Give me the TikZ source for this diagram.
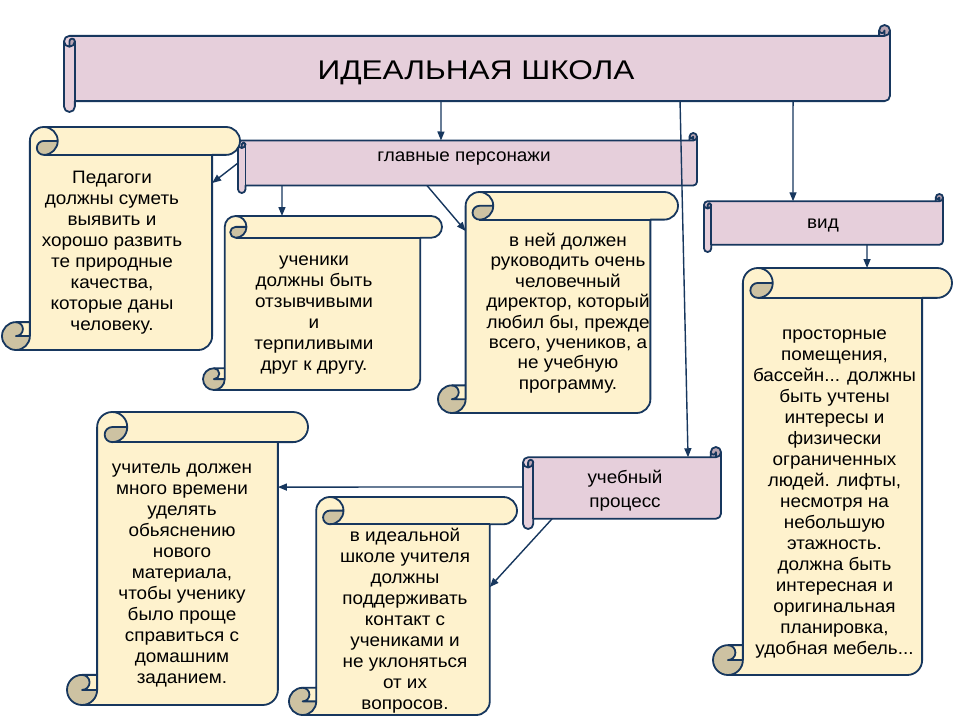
\documentclass[tikz,border=0pt]{standalone}
\usepackage{fontspec}
\setmainfont{Liberation Sans}[FakeStretch=1.05]
\newfontfamily\titlefont{Liberation Sans}[FakeStretch=1.17]
\usetikzlibrary{arrows.meta, positioning, calc}
\definecolor{scrollline}{HTML}{17375E}
\definecolor{scrollpink}{HTML}{E6CFDB}
\definecolor{pinkcurl}{HTML}{B9A5B3}
\definecolor{scrollcream}{HTML}{FEF2CD}
\definecolor{creamcurl}{HTML}{CDC2A2}

% vertical scroll: name, left, top, right, bottom (pixel units, y down)
\newcommand{\vscroll}[5]{%
  \pgfmathsetmacro\sch{0.125*min(#4-#2,#5-#3)}
  \pgfmathsetmacro\schh{\sch/2}
  \pgfmathsetmacro\schq{\sch/4}
  \pgfmathsetmacro\sxa{#2+\sch}
  \pgfmathsetmacro\sxb{#2+\schh}
  \pgfmathsetmacro\sxc{#2+1.5*\sch}
  \pgfmathsetmacro\sxd{#2+2*\sch}
  \pgfmathsetmacro\sxf{#4-\sch}
  \pgfmathsetmacro\sxg{#4-\schh}
  \pgfmathsetmacro\sya{#3+\sch}
  \pgfmathsetmacro\syb{#3+\schh}
  \pgfmathsetmacro\syc{#5-\sch}
  \pgfmathsetmacro\syd{#5-\schh}
  \fill[scrollcream] (\sxa,\syc) -- (\sxa,\syb) arc[start angle=180, delta angle=90, radius=\schh]
    -- (\sxg,#3) arc[start angle=270, delta angle=180, radius=\schh] -- (\sxf,\sya)
    -- (\sxf,\syd) arc[start angle=0, delta angle=90, radius=\schh]
    -- (\sxb,#5) arc[start angle=90, delta angle=180, radius=\schh] -- cycle;
  \fill[creamcurl] (\sxd,\syb) arc[start angle=0, delta angle=90, radius=\schh]
    arc[start angle=90, delta angle=180, radius=\schq] -- cycle;
  \fill[creamcurl] (\sxa,\syd) arc[start angle=0, delta angle=270, radius=\schh]
    arc[start angle=270, delta angle=180, radius=\schq] -- cycle;
  \draw[scroll] (\sxa,\syc) -- (\sxa,\syb) arc[start angle=180, delta angle=90, radius=\schh]
    -- (\sxg,#3) arc[start angle=270, delta angle=180, radius=\schh] -- (\sxf,\sya)
    -- (\sxf,\syd) arc[start angle=0, delta angle=90, radius=\schh]
    -- (\sxb,#5) arc[start angle=90, delta angle=180, radius=\schh] -- cycle;
  \draw[scroll] (\sxc,#3) arc[start angle=270, delta angle=180, radius=\schh]
    arc[start angle=90, delta angle=180, radius=\schq] -- (\sxd,\syb);
  \draw[scroll] (\sxf,\sya) -- (\sxc,\sya);
  \draw[scroll] (\sxb,\syc) arc[start angle=270, delta angle=180, radius=\schq] -- (\sxa,\syd);
  \draw[scroll] (\sxb,#5) arc[start angle=90, delta angle=-90, radius=\schh] -- (\sxa,\syc);
  \node[body, minimum width=\sxf-\sxa, minimum height=#5-\sya] (#1)
    at ({(\sxa+\sxf)/2},{(\sya+#5)/2}) {};
  \node[body, minimum width=#4-\sxa, minimum height=\sch] (#1-roll)
    at ({(\sxa+#4)/2},{(#3+\sya)/2}) {};
}

% horizontal scroll: name, left, top, right, bottom
\newcommand{\hscroll}[5]{%
  \pgfmathsetmacro\sch{0.125*min(#4-#2,#5-#3)}
  \pgfmathsetmacro\schh{\sch/2}
  \pgfmathsetmacro\schq{\sch/4}
  \pgfmathsetmacro\sxa{#2+\sch}
  \pgfmathsetmacro\sxb{#2+\schh}
  \pgfmathsetmacro\sxc{#4-\sch}
  \pgfmathsetmacro\sxd{#4-\schh}
  \pgfmathsetmacro\sya{#3+\sch}
  \pgfmathsetmacro\syb{#3+\schh}
  \pgfmathsetmacro\syc{#3+1.5*\sch}
  \pgfmathsetmacro\syd{#3+2*\sch}
  \pgfmathsetmacro\syf{#5-\sch}
  \pgfmathsetmacro\syg{#5-\schh}
  \fill[scrollpink] (\sxc,\sya) -- (\sxb,\sya) arc[start angle=270, delta angle=-90, radius=\schh]
    -- (#2,\syg) arc[start angle=180, delta angle=-180, radius=\schh] -- (\sxa,\syf)
    -- (\sxd,\syf) arc[start angle=90, delta angle=-90, radius=\schh]
    -- (#4,\syb) arc[start angle=0, delta angle=-180, radius=\schh] -- cycle;
  \fill[pinkcurl] (\sxb,\syd) arc[start angle=90, delta angle=-90, radius=\schh]
    arc[start angle=0, delta angle=-180, radius=\schq] -- cycle;
  \fill[pinkcurl] (\sxd,\sya) arc[start angle=90, delta angle=-270, radius=\schh]
    arc[start angle=180, delta angle=-180, radius=\schq] -- cycle;
  \draw[scroll] (\sxc,\sya) -- (\sxb,\sya) arc[start angle=270, delta angle=-90, radius=\schh]
    -- (#2,\syg) arc[start angle=180, delta angle=-180, radius=\schh] -- (\sxa,\syf)
    -- (\sxd,\syf) arc[start angle=90, delta angle=-90, radius=\schh]
    -- (#4,\syb) arc[start angle=0, delta angle=-180, radius=\schh] -- cycle;
  \draw[scroll] (#2,\syc) arc[start angle=180, delta angle=-180, radius=\schh]
    arc[start angle=0, delta angle=-180, radius=\schq] -- (\sxb,\syd);
  \draw[scroll] (\sxa,\syf) -- (\sxa,\syc);
  \draw[scroll] (\sxc,\syb) arc[start angle=180, delta angle=-180, radius=\schq] -- (\sxd,\sya);
  \draw[scroll] (#4,\syb) arc[start angle=0, delta angle=90, radius=\schh] -- (\sxc,\sya);
  \node[body, minimum width=#4-\sxa, minimum height=\syf-\sya] (#1)
    at ({(\sxa+#4)/2},{(\sya+\syf)/2}) {};
}

\begin{document}
\begin{tikzpicture}[
    x=1pt, y=-1pt,
    scroll/.style={draw=scrollline, line width=1.8pt, line join=round},
    body/.style={inner sep=0pt, outer sep=0pt},
    txt/.style={align=center, inner sep=0pt, font=\fontsize{18}{21}\selectfont},
    arr/.style={draw=scrollline, line width=1.4pt, -{Triangle[length=9pt,width=7pt]}}
  ]
    \fill[white] (0,0) rectangle (960,720);
    \useasboundingbox (0,0) rectangle (960,720);

    % scrolls
    \hscroll{ideal}{64}{25}{890}{112}
    \hscroll{cast}{238}{133}{697}{193}
    \hscroll{vid}{704}{194}{943}{252}
    \hscroll{proc}{523}{447}{721}{529}
    \vscroll{ped}{2}{127}{240}{350}
    \vscroll{pupils}{203}{216}{442}{390}
    \vscroll{head}{438}{192}{678}{413}
    \vscroll{teach}{67}{412}{308}{705}
    \vscroll{contact}{289}{497}{517}{715}
    \vscroll{space}{713}{268}{952}{675}

    % connectors
    \draw[arr] ([xshift=-41.4]ideal.south) -- ([xshift=-30.3]cast.north);
    \draw[arr] ([xshift=197.6]ideal.south) -- ([xshift=60.9]proc.north);
    \draw[arr] ([xshift=310.6]ideal.south) -- ([xshift=-34.1]vid.north);
    \draw[arr] ([xshift=-7.5]cast.west) -- ([yshift=69.4]ped.east);
    \draw[arr] ([xshift=-189.3]cast.south) -- ([xshift=-51.4]pupils-roll.north);
    \draw[arr] ([xshift=-44.3]cast.south) -- ([yshift=85.3]head.west);
    \draw[arr] ([xshift=39.9]vid.south) -- ([xshift=19.6]space-roll.north);
    \draw[arr] ([xshift=-10.3,yshift=1]proc.west) -- ([yshift=86.5]teach.east);
    \draw[arr] ([xshift=-75]proc.south) -- ([yshift=32.6]contact.east);

    % texts
    \node[txt, font=\titlefont\fontsize{27}{32}\selectfont] (ideal-t) at (476,73) {ИДЕАЛЬНАЯ ШКОЛА};
    \node[txt] (cast-t) at (464,159) {главные персонажи};
    \node[txt] (vid-t) at (823,226) {вид};
    \node[txt, font=\fontsize{18}{24}\selectfont] (proc-t) at (625,491) {учебный\\процесс};
    \node[txt] (ped-t) at (112,253) {Педагоги\\должны суметь\\выявить и\\хорошо развить\\те природные\\качества,\\которые даны\\человеку.};
    \node[txt] (pupils-t) at (314,315) {ученики\\должны быть\\отзывчивыми\\и\\терпиливыми\\друг к другу.};
    \node[txt, font=\fontsize{18}{20.4}\selectfont] (head-t) at (568,313) {в ней должен\\руководить очень\\человечный\\директор, который\\любил бы, прежде\\всего, учеников, а\\не учебную\\программу.};
    \node[txt] (teach-t) at (182,575) {учитель должен\\много времени\\уделять\\обьяснению\\нового\\материала,\\чтобы ученику\\было проще\\справиться с\\домашним\\заданием.};
    \node[txt] (contact-t) at (405,621) {в идеальной\\школе учителя\\должны\\поддерживать\\контакт с\\учениками и\\не уклоняться\\от их\\вопросов.};
    \node[txt] (space-t) at (834.5,494) {просторные\\помещения,\\бассейн... должны\\быть учтены\\интересы и\\физически\\ограниченных\\людей. лифты,\\несмотря на\\небольшую\\этажность.\\должна быть\\интересная и\\оригинальная\\планировка,\\удобная мебель...};
\end{tikzpicture}
\end{document}
